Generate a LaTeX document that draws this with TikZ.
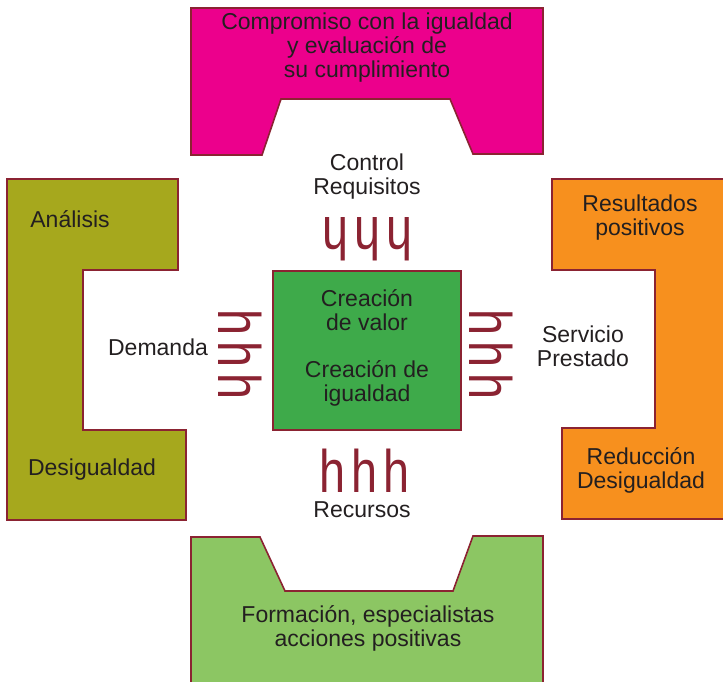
\documentclass[tikz,border=0pt]{standalone}
\usepackage{fontspec}
\setmainfont{Liberation Sans}
\newfontfamily\flechas[FakeStretch=0.78,LetterSpace=10]{Liberation Sans}
\usetikzlibrary{calc}
\definecolor{borde}{HTML}{8B2332}
\definecolor{texto}{HTML}{231F20}
\definecolor{magenta}{HTML}{EC008C}
\definecolor{oliva}{HTML}{A6A81D}
\definecolor{naranja}{HTML}{F7901E}
\definecolor{verdeclaro}{HTML}{8CC663}
\definecolor{verde}{HTML}{3EAA4A}

\begin{document}
\begin{tikzpicture}[x=1pt,y=-1pt]
    \tikzset{panel/.style={draw=borde,line width=1.6pt,line join=miter},
             txt/.style={text=texto,font=\fontsize{23}{24}\selectfont,align=center,inner sep=0pt},
             flecha/.style={text=borde,font=\flechas\fontsize{60}{60}\selectfont,inner sep=0pt}}
    
    \useasboundingbox (0,0) rectangle (723,681);
    
    %Compromiso (arriba)
    \draw[panel,fill=magenta] (191,8) -- (543,8) -- (543,154) -- (473,154) -- (450,99)
        -- (281,99) -- (262,155) -- (191,155) -- cycle;
    %Analisis (izquierda)
    \draw[panel,fill=oliva] (7,179) -- (178,179) -- (178,270) -- (83,270) -- (83,430)
        -- (186,430) -- (186,520) -- (7,520) -- cycle;
    %Resultados (derecha)
    \draw[panel,fill=naranja] (552,179) -- (730,179) -- (730,519) -- (562,519) -- (562,428)
        -- (655,428) -- (655,270) -- (552,270) -- cycle;
    %Formacion (abajo)
    \draw[panel,fill=verdeclaro] (191,690) -- (191,537) -- (260,537) -- (285,591) -- (453,591)
        -- (473,536) -- (543,536) -- (543,690);
    %Centro
    \draw[panel,fill=verde] (273,271) rectangle (461,430);
    
    %textos de los paneles
    \node[txt] (compromiso) at (367,48) {Compromiso con la igualdad\\y evaluación de\\su cumplimiento};
    \node[txt] (analisis) at (70,219) {Análisis};
    \node[txt] (desigualdad) at (92,470) {Desigualdad};
    \node[txt] (resultados) at (640,218) {Resultados\\positivos};
    \node[txt] (reduccion) at (641,470) {Reducción\\Desigualdad};
    \node[txt] (formacion) at (368,628) {Formación, especialistas\\acciones positivas};
    \node[txt] (valor) at (367,310) {Creación\\de valor};
    \node[txt] (igualdad) at (367,383) {Creación de\\igualdad};
    
    %etiquetas de los huecos
    \node[txt] (control) at (367,177) {Control\\Requisitos};
    \node[txt] (demanda) at (158,347) {Demanda};
    \node[txt] (servicio) at (583,346) {Servicio\\Prestado};
    \node[txt] (recursos) at (362,510) {Recursos};
    
    %flechas
    \node[flecha,rotate=180] (f_arriba) at (367,239) {hhh};
    \node[flecha] (f_abajo) at (365,471) {hhh};
    \node[flecha,rotate=-90] (f_izq) at (240,355) {hhh};
    \node[flecha,rotate=-90] (f_der) at (491,355) {hhh};
\end{tikzpicture}
\end{document}
